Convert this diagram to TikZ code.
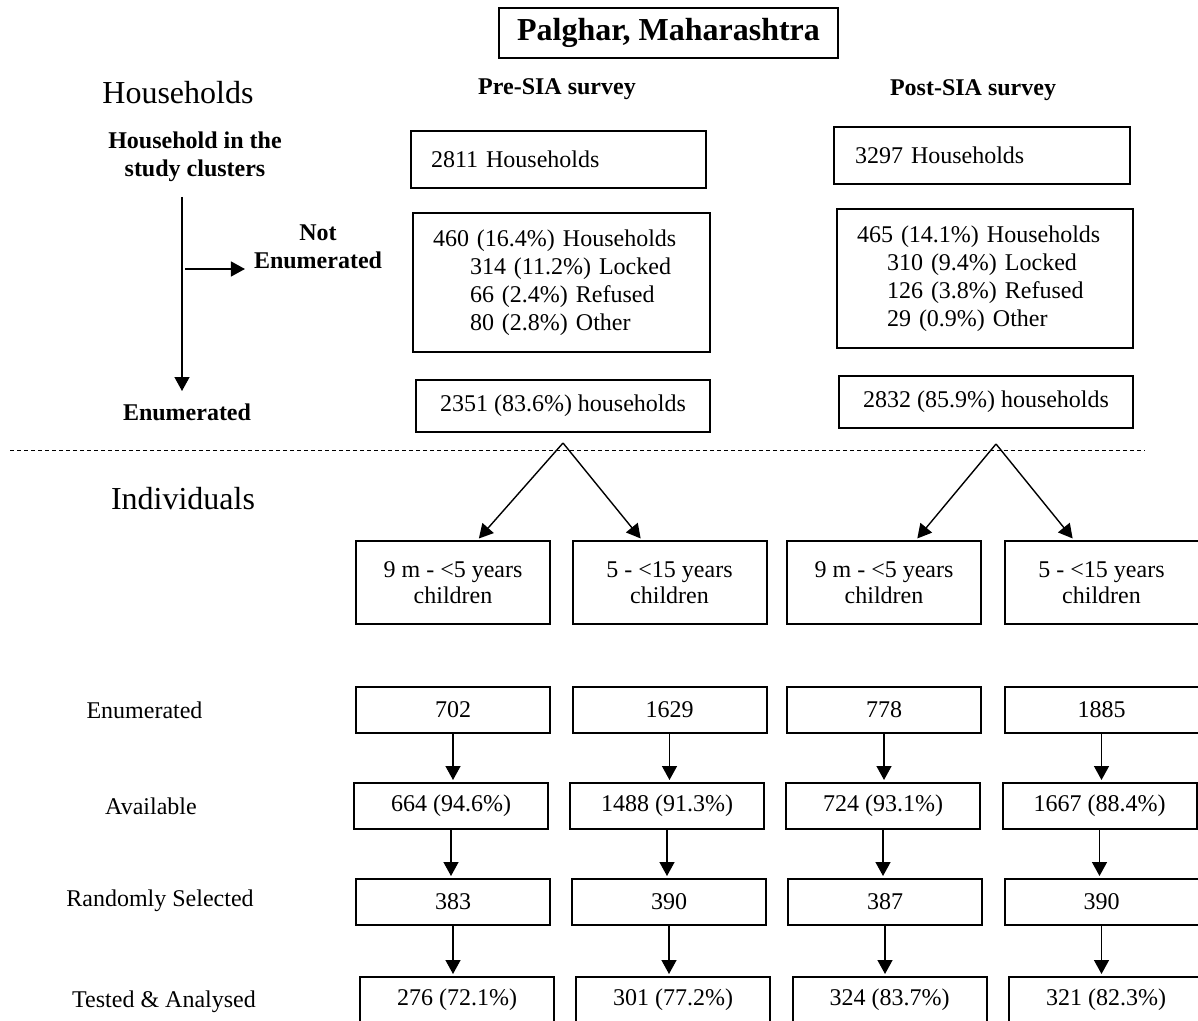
\documentclass[tikz,border=0pt]{standalone}
\usepackage{fontspec}
\setmainfont{Liberation Serif}
\usetikzlibrary{arrows.meta,positioning,calc}

\tikzset{
  box/.style={draw, line width=1pt, inner sep=0pt, align=center},
  agebox/.style={box, minimum width=97pt, minimum height=41.5pt, font=\fontsize{12}{13}\selectfont},
  numbox/.style={box, minimum width=97pt, minimum height=23pt},
  flow/.style={->, line width=0.7pt, shorten >=1pt},
  sepline/.style={line width=0.5pt, dash pattern=on 2pt off 1.5pt},
  head/.style={font=\fontsize{16}{19}\selectfont},
  boldlab/.style={font=\fontsize{12}{14}\selectfont\bfseries, align=center},
  >={Triangle[length=7pt,width=7.5pt]}
}

\begin{document}
\begin{tikzpicture}[x=0.5pt,y=-0.5pt,font=\fontsize{12}{14}\selectfont]
\useasboundingbox (0,0) rectangle (1198,1021);

\node[box, minimum width=169.5pt, minimum height=25pt, font=\fontsize{16}{19}\selectfont\bfseries] (title) at (668.5,33) {Palghar, Maharashtra};

\node[head] (hh) at (178,93) {Households};
\node[boldlab] (pre) at (557,89) {Pre-SIA survey};
\node[boldlab] (post) at (973,90) {Post-SIA survey};

% household flow on the left
\node[boldlab] (cluster) at (195,157) {Household in the\\study clusters};
\node[boldlab] (notenum) at (318,247) {Not\\Enumerated};
\node[boldlab] (enum) at (187,412) {Enumerated};
\coordinate (top) at (182,197);
\coordinate (bottom) at (182,391);
\coordinate (branch) at (185,269);
\draw[flow, shorten >=0pt] (top) -- (bottom);
\draw[flow] (branch) -- (notenum.west |- branch);

% pre-SIA households
\node[box, minimum height=28.5pt, text width=127.5pt, inner xsep=10pt, align=left] (hhpre) at (558.5,159.5) {2811 Households};
\node[box, minimum height=69.5pt, text width=128.5pt, inner xsep=10pt, align=left] (nepre) at (561.5,282.5) {460 (16.4\%) Households\\\hspace*{18.5pt}314 (11.2\%) Locked\\\hspace*{18.5pt}66 (2.4\%) Refused\\\hspace*{18.5pt}80 (2.8\%) Other};
\node[box, minimum width=147pt, minimum height=26pt] (enpre) at (563,406) {2351 (83.6\%) households};

% post-SIA households
\node[box, minimum height=28.5pt, text width=127pt, inner xsep=10.5pt, align=left] (hhpost) at (982,155.5) {3297 Households};
\node[box, minimum height=69.5pt, text width=128pt, inner xsep=10pt, align=left] (nepost) at (985,278.5) {465 (14.1\%) Households\\\hspace*{15pt}310 (9.4\%) Locked\\\hspace*{15pt}126 (3.8\%) Refused\\\hspace*{15pt}29 (0.9\%) Other};
\node[box, minimum width=147pt, minimum height=26pt] (enpost) at (986,402) {2832 (85.9\%) households};

\coordinate (dashL) at (10,450);
\coordinate (dashR) at (1145,450);
\draw[sepline] (dashL) -- (dashR);

\node[head] (indiv) at (183,499) {Individuals};

% age groups
\coordinate (splitpre) at (563,443);
\coordinate (splitpost) at (996,444);
\node[agebox] (a1) at (453,582.5) {9 m - <5 years\\children};
\node[agebox] (a2) at (669.5,582.5) {5 - <15 years\\children};
\node[agebox] (a3) at (884,582.5) {9 m - <5 years\\children};
\node[agebox] (a4) at (1101.5,582.5) {5 - <15 years\\children};
\draw[flow] (splitpre) -- (a1.60);
\draw[flow] (splitpre) -- (a2.123);
\draw[flow] (splitpost) -- (a3.53);
\draw[flow] (splitpost) -- (a4.123);

% row labels
\node (lenum) at (144.5,710) {Enumerated};
\node (lavail) at (151,806) {Available};
\node (lrand) at (160,901) {Randomly Selected};
\node (ltest) at (164,1002) {Tested \& Analysed};

\node[numbox] (e1) at (453,710) {702};
\node[numbox] (e2) at (669.5,710) {1629};
\node[numbox] (e3) at (884,710) {778};
\node[numbox] (e4) at (1101.5,710) {1885};

\node[numbox] (v1) at (451,806) {664 (94.6\%)};
\node[numbox] (v2) at (667,806) {1488 (91.3\%)};
\node[numbox] (v3) at (883,806) {724 (93.1\%)};
\node[numbox] (v4) at (1099.5,806) {1667 (88.4\%)};

\node[numbox] (r1) at (453,902) {383};
\node[numbox] (r2) at (669,902) {390};
\node[numbox] (r3) at (885,902) {387};
\node[numbox] (r4) at (1101.5,902) {390};

\node[numbox] (t1) at (457,1000) {276 (72.1\%)};
\node[numbox] (t2) at (673,1000) {301 (77.2\%)};
\node[numbox] (t3) at (889.5,1000) {324 (83.7\%)};
\node[numbox] (t4) at (1106,1000) {321 (82.3\%)};

\draw[flow] (e1.south) -- (e1.south |- v1.north);
\draw[flow] (e2.south) -- (e2.south |- v2.north);
\draw[flow] (e3.south) -- (e3.south |- v3.north);
\draw[flow] (e4.south) -- (e4.south |- v4.north);
\draw[flow] (v1.south) -- (v1.south |- r1.north);
\draw[flow] (v2.south) -- (v2.south |- r2.north);
\draw[flow] (v3.south) -- (v3.south |- r3.north);
\draw[flow] (v4.south) -- (v4.south |- r4.north);
\draw[flow] (r1.south) -- (r1.south |- t1.north);
\draw[flow] (r2.south) -- (r2.south |- t2.north);
\draw[flow] (r3.south) -- (r3.south |- t3.north);
\draw[flow] (r4.south) -- (r4.south |- t4.north);
\end{tikzpicture}
\end{document}
